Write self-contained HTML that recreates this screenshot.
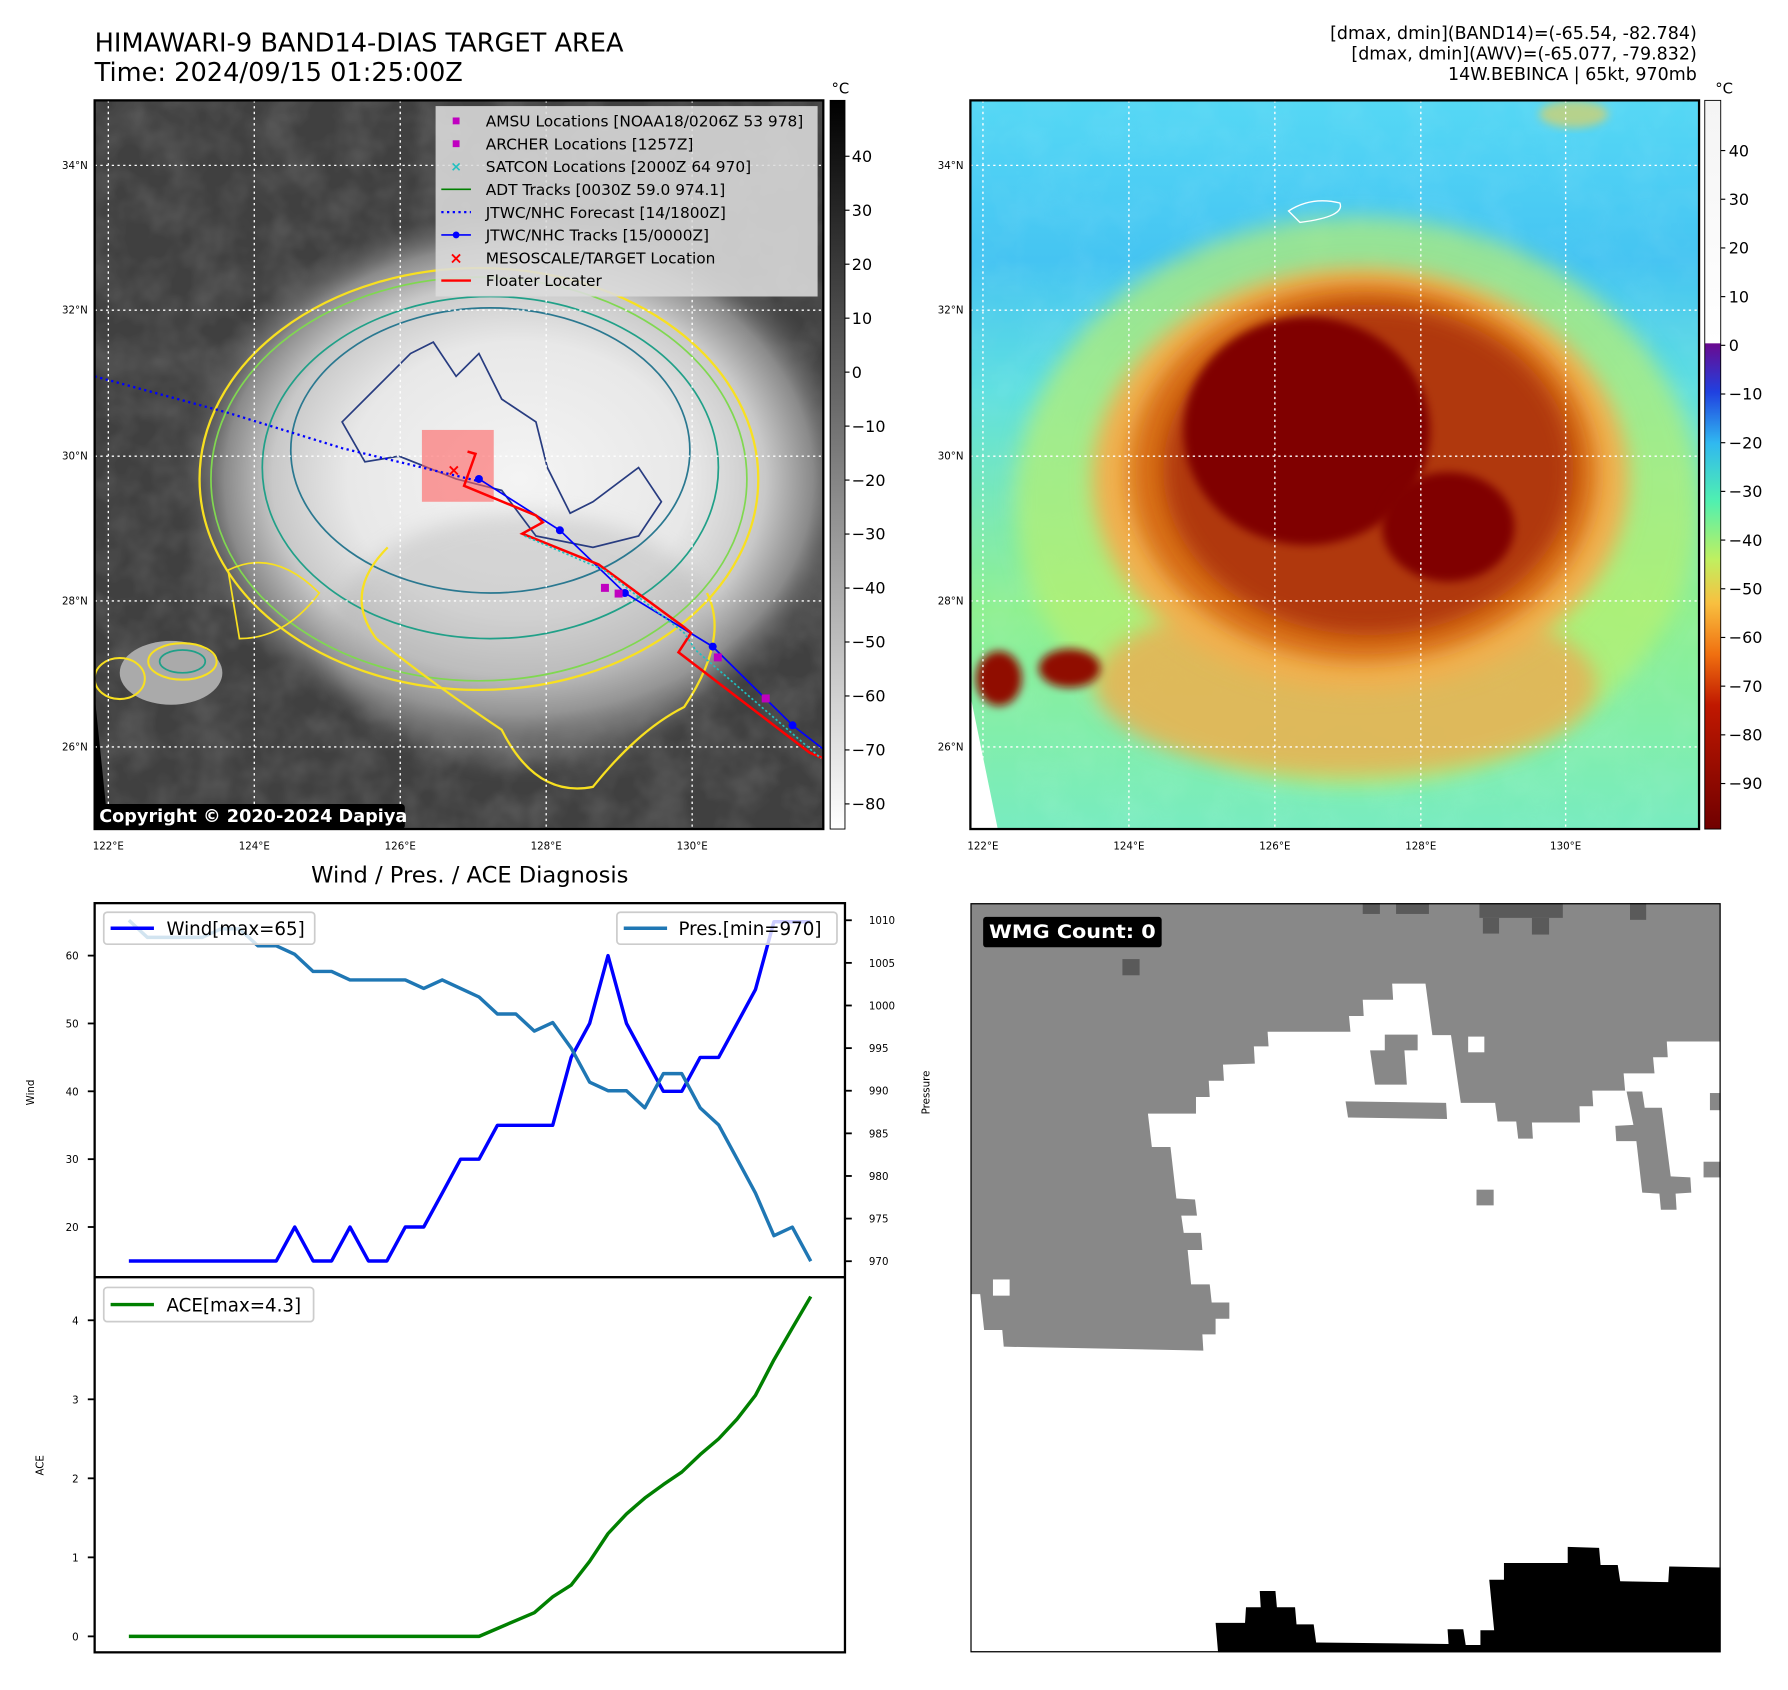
<!DOCTYPE html>
<html><head><meta charset="utf-8"><style>
html,body{margin:0;padding:0;background:#fff}
svg{display:block;font-family:"DejaVu Sans","Liberation Sans",sans-serif}
</style></head><body>
<svg id="root" width="1788" height="1690" viewBox="0 0 1568 1482" xmlns="http://www.w3.org/2000/svg">
<defs>
<radialGradient id="cloudL" cx="0.5" cy="0.5" r="0.5">
<stop offset="0" stop-color="#f4f4f4"/><stop offset="0.5" stop-color="#e8e8e8"/><stop offset="0.72" stop-color="#c8c8c8"/><stop offset="0.86" stop-color="#8a8a8a"/><stop offset="1" stop-color="#555" stop-opacity="0"/>
</radialGradient>
<linearGradient id="bgR" x1="0" y1="0" x2="0" y2="1">
<stop offset="0" stop-color="#55d8f5"/><stop offset="0.22" stop-color="#45c4f2"/><stop offset="0.4" stop-color="#60e0e0"/><stop offset="0.7" stop-color="#8ef090"/><stop offset="1" stop-color="#78ecc0"/>
</linearGradient>
<linearGradient id="cbL" x1="0" y1="0" x2="0" y2="1">
<stop offset="0" stop-color="#000"/><stop offset="1" stop-color="#fff"/>
</linearGradient>
<linearGradient id="cbR" x1="0" y1="0" x2="0" y2="1">
<stop offset="0" stop-color="#f4f4f4"/><stop offset="0.333" stop-color="#ffffff"/><stop offset="0.334" stop-color="#6a0a90"/><stop offset="0.40" stop-color="#2040e0"/><stop offset="0.47" stop-color="#30b8f0"/><stop offset="0.55" stop-color="#50f0b0"/><stop offset="0.63" stop-color="#c0f060"/><stop offset="0.69" stop-color="#f8c040"/><stop offset="0.76" stop-color="#f07010"/><stop offset="0.83" stop-color="#c01800"/><stop offset="1" stop-color="#700000"/>
</linearGradient>
<filter id="noise" x="0" y="0" width="1" height="1">
<feTurbulence type="fractalNoise" baseFrequency="0.03" numOctaves="3" seed="4"/>
<feColorMatrix type="matrix" values="0 0 0 0 1  0 0 0 0 1  0 0 0 0 1  0 0 0 0.9 -0.3"/>
</filter>
<filter id="blur" x="-20%" y="-20%" width="140%" height="140%"><feGaussianBlur stdDeviation="9"/></filter>
<filter id="blur2" x="-20%" y="-20%" width="140%" height="140%"><feGaussianBlur stdDeviation="4"/></filter>
<clipPath id="clipL"><rect x="83" y="88" width="639" height="639"/></clipPath>
<clipPath id="clipR"><rect x="851" y="88" width="639" height="639"/></clipPath>
</defs>

<text x="83" y="45" font-size="22.5" fill="#000">HIMAWARI-9 BAND14-DIAS TARGET AREA</text>
<text x="83" y="71" font-size="22.5" fill="#000">Time: 2024/09/15 01:25:00Z</text>
<g font-size="15.3" text-anchor="end" fill="#000">
<text x="1488" y="34">[dmax, dmin](BAND14)=(-65.54, -82.784)</text>
<text x="1488" y="52">[dmax, dmin](AWV)=(-65.077, -79.832)</text>
<text x="1488" y="70">14W.BEBINCA | 65kt, 970mb</text>
</g>

<!-- Left map -->
<g clip-path="url(#clipL)">
<rect x="83" y="88" width="639" height="639" fill="#404040"/>
<rect x="83" y="88" width="639" height="639" filter="url(#noise)" opacity="0.25"/>
<ellipse cx="455" cy="420" rx="300" ry="240" fill="url(#cloudL)"/>
<ellipse cx="460" cy="560" rx="170" ry="110" fill="#a8a8a8" opacity="0.35" filter="url(#blur)"/>
<ellipse cx="150" cy="590" rx="45" ry="28" fill="#aaa"/>
<ellipse cx="420" cy="420" rx="245" ry="185" fill="none" stroke="#f8e020" stroke-width="2"/>
<ellipse cx="420" cy="420" rx="235" ry="177" fill="none" stroke="#80d850" stroke-width="1.5"/>
<ellipse cx="430" cy="410" rx="200" ry="150" fill="none" stroke="#20a088" stroke-width="1.5"/>
<ellipse cx="430" cy="395" rx="175" ry="125" fill="none" stroke="#2a7890" stroke-width="1.5"/>
<path d="M300,370 L330,340 L360,310 L380,300 L400,330 L420,310 L440,350 L470,370 L480,410 L500,450 L520,440 L560,410 L580,440 L560,470 L520,480 L470,470 L440,430 L400,420 L350,400 L320,405 Z" fill="none" stroke="#283c80" stroke-width="1.5"/>
<path d="M340,480 Q300,520 330,560 Q380,600 440,640 Q470,700 520,690 Q560,640 600,620 Q640,560 620,520" fill="none" stroke="#f8e020" stroke-width="2"/>
<path d="M200,500 Q240,480 280,520 Q250,560 210,560 Z" fill="none" stroke="#f8e020" stroke-width="1.5"/>
<ellipse cx="105" cy="595" rx="22" ry="18" fill="none" stroke="#f8e020" stroke-width="1.8"/>
<ellipse cx="160" cy="580" rx="30" ry="16" fill="none" stroke="#f8e020" stroke-width="1.8"/>
<ellipse cx="160" cy="580" rx="20" ry="10" fill="none" stroke="#20a088" stroke-width="1.5"/>
<path d="M83,727 L83,610 L95,727 Z" fill="#000"/>
<g stroke="#fff" stroke-width="1.2" stroke-dasharray="2,3">
<line x1="95" y1="88" x2="95" y2="727"/><line x1="223" y1="88" x2="223" y2="727"/><line x1="351" y1="88" x2="351" y2="727"/><line x1="479" y1="88" x2="479" y2="727"/><line x1="607" y1="88" x2="607" y2="727"/>
<line x1="83" y1="145" x2="722" y2="145"/><line x1="83" y1="272" x2="722" y2="272"/><line x1="83" y1="400" x2="722" y2="400"/><line x1="83" y1="527" x2="722" y2="527"/><line x1="83" y1="655" x2="722" y2="655"/>
</g>
<rect x="370" y="377" width="63" height="63" fill="#ff6060" opacity="0.6"/>
<polyline points="83,330 200,362 300,393 420,422" fill="none" stroke="#0000ff" stroke-width="2" stroke-dasharray="2,3"/>
<polyline points="420,420 491,465 548,520 625,567 695,636 722,657" fill="none" stroke="#0000ff" stroke-width="1.5"/>
<g fill="#0000ff"><circle cx="420" cy="420" r="3.5"/><circle cx="491" cy="465" r="3.5"/><circle cx="548" cy="520" r="3.5"/><circle cx="625" cy="567" r="3.5"/><circle cx="695" cy="636" r="3.5"/></g>
<polyline points="410,396 417,398 407,426 470,452 476,458 458,468 525,495 600,550 606,555 595,572 710,660 722,665" fill="none" stroke="#ff0000" stroke-width="2.2"/>
<polyline points="460,470 530,500 600,555 610,570 720,665" fill="none" stroke="#20c0c0" stroke-width="1.5" stroke-dasharray="2,2"/>
<text x="398" y="417" font-size="14" fill="#ff0000" text-anchor="middle" font-weight="bold">×</text>
<g fill="#c000c0"><rect x="527" y="512" width="7" height="7"/><rect x="539" y="517" width="7" height="7"/><rect x="626" y="573" width="7" height="7"/><rect x="668" y="609" width="7" height="7"/></g>
<g>
<rect x="382" y="93" width="335" height="167" fill="#dcdcdc" opacity="0.88"/>
<g font-size="13.5" fill="#000">
<rect x="397" y="103" width="6" height="6" fill="#c000c0"/><text x="426" y="111">AMSU Locations [NOAA18/0206Z 53 978]</text>
<rect x="397" y="123" width="6" height="6" fill="#c000c0"/><text x="426" y="131">ARCHER Locations [1257Z]</text>
<text x="400" y="150" fill="#20c0c0" text-anchor="middle" font-size="12" font-weight="bold">×</text><text x="426" y="151">SATCON Locations [2000Z 64 970]</text>
<line x1="387" y1="166" x2="413" y2="166" stroke="#008000" stroke-width="1.5"/><text x="426" y="171">ADT Tracks [0030Z 59.0 974.1]</text>
<line x1="387" y1="186" x2="413" y2="186" stroke="#0000ff" stroke-width="2" stroke-dasharray="2,3"/><text x="426" y="191">JTWC/NHC Forecast [14/1800Z]</text>
<line x1="387" y1="206" x2="413" y2="206" stroke="#0000ff" stroke-width="1.5"/><circle cx="400" cy="206" r="3" fill="#0000ff"/><text x="426" y="211">JTWC/NHC Tracks [15/0000Z]</text>
<text x="400" y="231" fill="#ff0000" text-anchor="middle" font-size="14" font-weight="bold">×</text><text x="426" y="231">MESOSCALE/TARGET Location</text>
<line x1="387" y1="246" x2="413" y2="246" stroke="#ff0000" stroke-width="2"/><text x="426" y="251">Floater Locater</text>
</g></g>
<rect x="83" y="705" width="272" height="22" fill="#000" rx="3"/>
<text x="87" y="721" font-size="15.5" font-weight="bold" fill="#fff">Copyright © 2020-2024 Dapiya</text>
</g>
<rect x="83" y="88" width="639" height="639" fill="none" stroke="#000" stroke-width="2"/>
<g font-size="9" fill="#000">
<text x="77" y="148" text-anchor="end">34°N</text><text x="77" y="275" text-anchor="end">32°N</text><text x="77" y="403" text-anchor="end">30°N</text><text x="77" y="530" text-anchor="end">28°N</text><text x="77" y="658" text-anchor="end">26°N</text>
<text x="95" y="745" text-anchor="middle">122°E</text><text x="223" y="745" text-anchor="middle">124°E</text><text x="351" y="745" text-anchor="middle">126°E</text><text x="479" y="745" text-anchor="middle">128°E</text><text x="607" y="745" text-anchor="middle">130°E</text>
</g>
<rect x="728" y="88" width="13" height="639" fill="url(#cbL)" stroke="#000" stroke-width="0.8"/>
<text x="737" y="82" font-size="13" text-anchor="middle">°C</text>
<g id="cbLticks" font-size="14" fill="#000"></g>

<!-- Right map -->
<g clip-path="url(#clipR)">
<rect x="851" y="88" width="639" height="639" fill="url(#bgR)"/>
<rect x="851" y="88" width="639" height="639" filter="url(#noise)" opacity="0.12"/>
<ellipse cx="1190" cy="440" rx="300" ry="250" fill="#b8f070" opacity="0.7" filter="url(#blur)"/>
<ellipse cx="1180" cy="600" rx="220" ry="80" fill="#f0a850" opacity="0.75" filter="url(#blur)"/>
<ellipse cx="1193" cy="420" rx="235" ry="185" fill="#f0b050" filter="url(#blur)"/>
<ellipse cx="1195" cy="415" rx="205" ry="165" fill="#d87018" filter="url(#blur)"/>
<ellipse cx="1200" cy="412" rx="180" ry="145" fill="#b03808" filter="url(#blur)"/>
<ellipse cx="1146" cy="378" rx="108" ry="100" fill="#800000" filter="url(#blur2)"/>
<ellipse cx="1270" cy="462" rx="58" ry="48" fill="#800000" filter="url(#blur2)"/>
<ellipse cx="876" cy="595" rx="20" ry="24" fill="#900800" filter="url(#blur2)"/>
<ellipse cx="938" cy="586" rx="27" ry="17" fill="#900800" filter="url(#blur2)"/>
<ellipse cx="1380" cy="100" rx="30" ry="12" fill="#e0d060" opacity="0.7" filter="url(#blur2)"/>
<path d="M851,727 L851,610 L875,727 Z" fill="#fff"/>
<g stroke="#fff" stroke-width="1.2" stroke-dasharray="2,3">
<line x1="862" y1="88" x2="862" y2="727"/><line x1="990" y1="88" x2="990" y2="727"/><line x1="1118" y1="88" x2="1118" y2="727"/><line x1="1246" y1="88" x2="1246" y2="727"/><line x1="1373" y1="88" x2="1373" y2="727"/>
<line x1="851" y1="145" x2="1490" y2="145"/><line x1="851" y1="272" x2="1490" y2="272"/><line x1="851" y1="400" x2="1490" y2="400"/><line x1="851" y1="527" x2="1490" y2="527"/><line x1="851" y1="655" x2="1490" y2="655"/>
</g>
<path d="M1130,185 Q1150,172 1175,178 Q1180,190 1140,195 Z" fill="none" stroke="#fff" stroke-width="1.2"/>
</g>
<rect x="851" y="88" width="639" height="639" fill="none" stroke="#000" stroke-width="2"/>
<g font-size="9" fill="#000">
<text x="845" y="148" text-anchor="end">34°N</text><text x="845" y="275" text-anchor="end">32°N</text><text x="845" y="403" text-anchor="end">30°N</text><text x="845" y="530" text-anchor="end">28°N</text><text x="845" y="658" text-anchor="end">26°N</text>
<text x="862" y="745" text-anchor="middle">122°E</text><text x="990" y="745" text-anchor="middle">124°E</text><text x="1118" y="745" text-anchor="middle">126°E</text><text x="1246" y="745" text-anchor="middle">128°E</text><text x="1373" y="745" text-anchor="middle">130°E</text>
</g>
<rect x="1495" y="88" width="14" height="639" fill="url(#cbR)" stroke="#000" stroke-width="0.8"/>
<text x="1512" y="82" font-size="13" text-anchor="middle">°C</text>
<g id="cbRticks" font-size="14" fill="#000"></g>

<!-- Wind/Pres/ACE -->
<text x="412" y="774" font-size="19.8" text-anchor="middle">Wind / Pres. / ACE Diagnosis</text>
<g id="windPlot"></g>
<g id="acePlot"></g>
<rect x="83" y="792" width="658" height="657" fill="none" stroke="#000" stroke-width="2"/>
<line x1="83" y1="1120" x2="741" y2="1120" stroke="#000" stroke-width="2"/>
<text transform="translate(30,958) rotate(-90)" font-size="9" text-anchor="middle">Wind</text>
<text transform="translate(815,958) rotate(-90)" font-size="9" text-anchor="middle">Pressure</text>
<text transform="translate(38,1285) rotate(-90)" font-size="9" text-anchor="middle">ACE</text>
<g>
<rect x="91" y="800" width="185" height="28" rx="3" fill="#fff" fill-opacity="0.8" stroke="#ccc" stroke-width="1.5"/>
<line x1="97" y1="814" x2="135" y2="814" stroke="#0000ff" stroke-width="3"/>
<text x="146" y="820" font-size="16">Wind[max=65]</text></g>
<g>
<rect x="541" y="800" width="193" height="28" rx="3" fill="#fff" fill-opacity="0.8" stroke="#ccc" stroke-width="1.5"/>
<line x1="547" y1="814" x2="585" y2="814" stroke="#1f77b4" stroke-width="3"/>
<text x="595" y="820" font-size="16">Pres.[min=970]</text></g>
<g>
<rect x="91" y="1129" width="184" height="30" rx="3" fill="#fff" fill-opacity="0.8" stroke="#ccc" stroke-width="1.5"/>
<line x1="97" y1="1144" x2="135" y2="1144" stroke="#008000" stroke-width="3"/>
<text x="146" y="1150" font-size="16">ACE[max=4.3]</text></g>

<!-- WMG panel -->
<svg x="851" y="792" width="658" height="657" viewBox="20 8 1530 1527" preserveAspectRatio="none">
<rect x="20" y="8" width="1530" height="1527" fill="#888"/>
<g fill="#5a5a5a"><rect x="820" y="8" width="35" height="22"/><rect x="888" y="8" width="67" height="22"/><rect x="1058" y="8" width="170" height="30"/><rect x="1065" y="38" width="33" height="32"/><rect x="1165" y="38" width="35" height="34"/><rect x="1365" y="8" width="33" height="34"/><rect x="330" y="122" width="35" height="33"/></g>
<polygon fill="#fff" points="20,805 40,805 48,878 85,878 88,912 495,920 493,887 520,887 520,855 548,855 548,822 512,822 508,785 470,785 463,715 493,715 490,680 455,680 450,645 482,645 478,612 440,610 428,505 390,505 382,437 480,437 480,403 508,403 506,370 537,370 535,337 600,335 598,300 628,300 626,270 795,270 792,238 822,238 820,205 882,205 880,172 948,172 962,277 1000,277 1020,415 1090,415 1095,453 1133,453 1137,488 1167,488 1165,455 1263,455 1262,422 1290,422 1288,390 1355,390 1352,355 1415,355 1412,322 1442,322 1440,290 1550,290 1550,1535 20,1535"/>
<g fill="#888"><polygon points="785,412 990,415 992,448 790,445"/><polygon points="835,308 865,308 865,276 932,276 932,308 905,308 910,378 845,378"/><rect x="1052" y="592" width="35" height="32"/><polygon points="1358,392 1390,392 1395,425 1430,425 1448,565 1488,567 1490,598 1458,600 1460,633 1428,633 1425,600 1390,598 1378,493 1337,493 1335,462 1372,460"/><rect x="1528" y="395" width="22" height="35"/><rect x="1515" y="535" width="35" height="32"/></g>
<g fill="#fff"><rect x="1035" y="280" width="33" height="32"/><rect x="66" y="775" width="34" height="33"/></g>
<polygon fill="#000" points="520,1475 580,1475 582,1443 612,1443 610,1410 642,1410 645,1443 682,1443 685,1478 720,1478 725,1515 995,1518 993,1488 1025,1488 1030,1520 1060,1520 1060,1490 1088,1490 1078,1387 1108,1387 1108,1353 1238,1353 1238,1320 1302,1322 1305,1357 1340,1357 1345,1390 1443,1392 1445,1360 1550,1362 1550,1535 525,1535"/>
<rect x="46" y="36" width="364" height="62" rx="6" fill="#000"/>
<text x="58" y="79" font-size="38" font-weight="bold" fill="#fff" textLength="340" lengthAdjust="spacingAndGlyphs">WMG Count: 0</text>
<rect x="20" y="8" width="1530" height="1527" fill="none" stroke="#000" stroke-width="5"/>
</svg>
</svg>
<script>
const NS="http://www.w3.org/2000/svg";
const windVals=[15,15,15,15,15,15,15,15,15,20,15,15,20,15,15,20,20,25,30,30,35,35,35,35,45,50,60,50,45,40,40,45,45,50,55,65,65,65];
const presVals=[1010,1008,1008,1008,1008,1009,1009,1007,1007,1006,1004,1004,1003,1003,1003,1003,1002,1003,1002,1001,999,999,997,998,995,991,990,990,988,992,992,988,986,982,978,973,974,970];
const aceVals=[0,0,0,0,0,0,0,0,0,0,0,0,0,0,0,0,0,0,0,0,0.1,0.2,0.3,0.5,0.65,0.95,1.3,1.55,1.75,1.92,2.08,2.3,2.5,2.75,3.05,3.5,3.9,4.3];
const windTicks=[20,30,40,50,60];
const presTicks=[970,975,980,985,990,995,1000,1005,1010];
const aceTicks=[0,1,2,3,4];
const cbLTicks=[40,30,20,10,0,-10,-20,-30,-40,-50,-60,-70,-80];
const cbRTicks=[40,30,20,10,0,-10,-20,-30,-40,-50,-60,-70,-80,-90];

const xS=i=>113+i*(598/(windVals.length-1));
const yW=v=>1076-(v-20)*5.95;
const yP=v=>1106-(v-970)*7.475;
const yA=v=>1435-v*69.3;
const yCL=v=>137+(40-v)*4.733;
const yCR=v=>132+(40-v)*4.27;

function mk(tag,attrs,parent){const e=document.createElementNS(NS,tag);for(const k in attrs)e.setAttribute(k,attrs[k]);parent.appendChild(e);return e;}
const wp=document.getElementById('windPlot'), ap=document.getElementById('acePlot');
function line(vals,yf,color,parent,name){
  const pts=vals.map((v,i)=>xS(i).toFixed(1)+','+yf(v).toFixed(1)).join(' ');
  const pl=mk('polyline',{points:pts,fill:'none',stroke:color,'stroke-width':3,'stroke-linejoin':'round'},parent);
  
  
}
line(windVals,yW,'#0000ff',wp,'wind-line');
line(presVals,yP,'#1f77b4',wp,'pressure-line');
line(aceVals,yA,'#008000',ap,'ace-line');
function ticks(arr,yf,x,side,parent,fs,label){
  arr.forEach(v=>{
    const y=yf(v);
    if(side==='left'){mk('line',{x1:x-6,y1:y,x2:x,y2:y,stroke:'#000','stroke-width':1.6},parent);
      const t=mk('text',{x:x-14,y:y+3.5,'font-size':fs,'text-anchor':'end'},parent);t.textContent=v;
      
      }
    else{mk('line',{x1:x,y1:y,x2:x+6,y2:y,stroke:'#000','stroke-width':1.6},parent);
      const t=mk('text',{x:x+21,y:y+3.5,'font-size':fs,'text-anchor':'start'},parent);t.textContent=v;
      
      }
  });
}
ticks(windTicks,yW,83,'left',wp,9,'wind-tick');
ticks(presTicks,yP,741,'right',wp,9,'pressure-tick');
ticks(aceTicks,yA,83,'left',ap,9,'ace-tick');
const cl=document.getElementById('cbLticks'), cr=document.getElementById('cbRticks');
cbLTicks.forEach(v=>{const y=yCL(v);mk('line',{x1:741,y1:y,x2:745,y2:y,stroke:'#000'},cl);
  const t=mk('text',{x:747,y:y+5,'font-size':14},cl);t.textContent=v<0?'\u2212'+(-v):v;
  
  });
cbRTicks.forEach(v=>{const y=yCR(v);mk('line',{x1:1509,y1:y,x2:1513,y2:y,stroke:'#000'},cr);
  const t=mk('text',{x:1516,y:y+5,'font-size':14},cr);t.textContent=v<0?'\u2212'+(-v):v;
  
  });
</script>
</body></html>
